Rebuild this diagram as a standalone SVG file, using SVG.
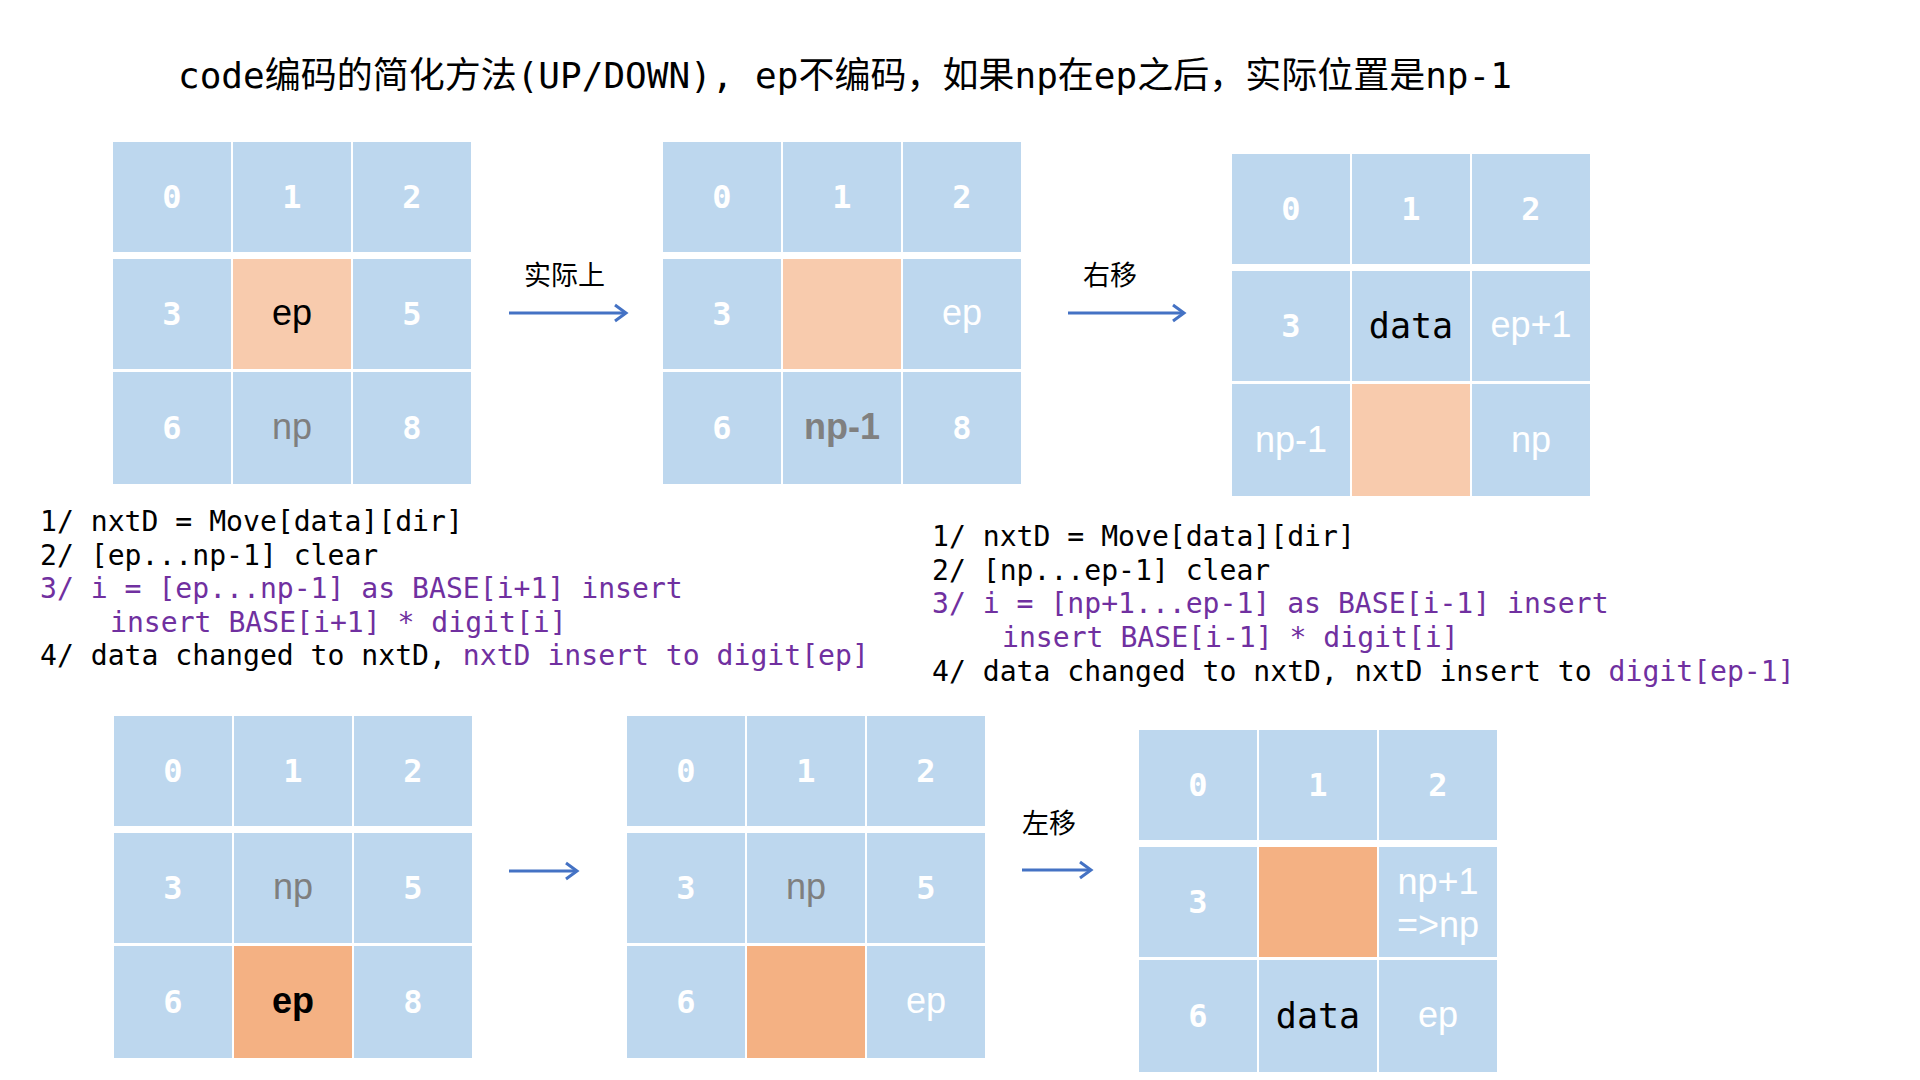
<svg xmlns="http://www.w3.org/2000/svg" width="1920" height="1080" viewBox="0 0 1920 1080">
<style>
.c{fill:#BDD7EE}
.o{fill:#F8CBAD}
.od{fill:#F4B183}
.d{font-family:"DejaVu Sans Mono","Liberation Mono",monospace;font-size:32px;font-weight:bold;fill:#FFFFFF;text-anchor:middle}
.s{font-family:"Liberation Sans",Arial,sans-serif;font-size:36px;text-anchor:middle}
.w{fill:#FFFFFF}
.k{fill:#000000}
.g{fill:#7F7F7F}
.m{font-family:"DejaVu Sans Mono","Liberation Mono",monospace;font-size:35px;text-anchor:middle;fill:#000000}
.code{font-family:"DejaVu Sans Mono","Liberation Mono",monospace;font-size:28.1px;fill:#000000}
.p{fill:#7030A0}
.lbl{font-family:"Liberation Serif","Noto Sans CJK SC",serif;font-size:27px;fill:#000000}
.arr{stroke:#4472C4;stroke-width:3;fill:none}
</style>
<defs>
<marker id="ah" markerUnits="userSpaceOnUse" markerWidth="16" markerHeight="20" refX="13" refY="10" orient="auto">
<path d="M2,2 L13,10 L2,18" fill="none" stroke="#4472C4" stroke-width="3"/>
</marker>
</defs>
<rect width="1920" height="1080" fill="#FFFFFF"/>

<text id="title" x="178" y="88" font-family="DejaVu Sans Mono,Noto Sans CJK SC,monospace" font-size="36" fill="#000000">code编码的简化方法(UP/DOWN), ep不编码，如果np在ep之后，实际位置是np-1</text>

<!-- Grid 1 -->
<g id="grid1">
<rect class="c" x="113" y="142" width="118" height="110"/><text class="d" x="172" y="208">0</text>
<rect class="c" x="233" y="142" width="118" height="110"/><text class="d" x="292" y="208">1</text>
<rect class="c" x="353" y="142" width="118" height="110"/><text class="d" x="412" y="208">2</text>
<rect class="c" x="113" y="259" width="118" height="110"/><text class="d" x="172" y="325">3</text>
<rect class="o" x="233" y="259" width="118" height="110"/><text class="s k" x="292" y="325">ep</text>
<rect class="c" x="353" y="259" width="118" height="110"/><text class="d" x="412" y="325">5</text>
<rect class="c" x="113" y="372" width="118" height="112"/><text class="d" x="172" y="439">6</text>
<rect class="c" x="233" y="372" width="118" height="112"/><text class="s g" x="292" y="439">np</text>
<rect class="c" x="353" y="372" width="118" height="112"/><text class="d" x="412" y="439">8</text>
</g>

<!-- Grid 2 -->
<g id="grid2">
<rect class="c" x="663" y="142" width="118" height="110"/><text class="d" x="722" y="208">0</text>
<rect class="c" x="783" y="142" width="118" height="110"/><text class="d" x="842" y="208">1</text>
<rect class="c" x="903" y="142" width="118" height="110"/><text class="d" x="962" y="208">2</text>
<rect class="c" x="663" y="259" width="118" height="110"/><text class="d" x="722" y="325">3</text>
<rect class="o" x="783" y="259" width="118" height="110"/>
<rect class="c" x="903" y="259" width="118" height="110"/><text class="s w" x="962" y="325">ep</text>
<rect class="c" x="663" y="372" width="118" height="112"/><text class="d" x="722" y="439">6</text>
<rect class="c" x="783" y="372" width="118" height="112"/><text class="s" x="842" y="439" font-weight="bold" fill="#808080">np-1</text>
<rect class="c" x="903" y="372" width="118" height="112"/><text class="d" x="962" y="439">8</text>
</g>

<!-- Grid 3 -->
<g id="grid3">
<rect class="c" x="1232" y="154" width="118" height="110"/><text class="d" x="1291" y="220">0</text>
<rect class="c" x="1352" y="154" width="118" height="110"/><text class="d" x="1411" y="220">1</text>
<rect class="c" x="1472" y="154" width="118" height="110"/><text class="d" x="1531" y="220">2</text>
<rect class="c" x="1232" y="271" width="118" height="110"/><text class="d" x="1291" y="337">3</text>
<rect class="c" x="1352" y="271" width="118" height="110"/><text class="m" x="1411" y="338">data</text>
<rect class="c" x="1472" y="271" width="118" height="110"/><text class="s w" x="1531" y="337" font-size="35">ep+1</text>
<rect class="c" x="1232" y="384" width="118" height="112"/><text class="s w" x="1291" y="452">np-1</text>
<rect class="o" x="1352" y="384" width="118" height="112"/>
<rect class="c" x="1472" y="384" width="118" height="112"/><text class="s w" x="1531" y="452">np</text>
</g>

<!-- Grid 4 -->
<g id="grid4">
<rect class="c" x="114" y="716" width="118" height="110"/><text class="d" x="173" y="782">0</text>
<rect class="c" x="234" y="716" width="118" height="110"/><text class="d" x="293" y="782">1</text>
<rect class="c" x="354" y="716" width="118" height="110"/><text class="d" x="413" y="782">2</text>
<rect class="c" x="114" y="833" width="118" height="110"/><text class="d" x="173" y="899">3</text>
<rect class="c" x="234" y="833" width="118" height="110"/><text class="s g" x="293" y="899">np</text>
<rect class="c" x="354" y="833" width="118" height="110"/><text class="d" x="413" y="899">5</text>
<rect class="c" x="114" y="946" width="118" height="112"/><text class="d" x="173" y="1013">6</text>
<rect class="od" x="234" y="946" width="118" height="112"/><text class="s k" x="293" y="1013" font-weight="bold">ep</text>
<rect class="c" x="354" y="946" width="118" height="112"/><text class="d" x="413" y="1013">8</text>
</g>

<!-- Grid 5 -->
<g id="grid5">
<rect class="c" x="627" y="716" width="118" height="110"/><text class="d" x="686" y="782">0</text>
<rect class="c" x="747" y="716" width="118" height="110"/><text class="d" x="806" y="782">1</text>
<rect class="c" x="867" y="716" width="118" height="110"/><text class="d" x="926" y="782">2</text>
<rect class="c" x="627" y="833" width="118" height="110"/><text class="d" x="686" y="899">3</text>
<rect class="c" x="747" y="833" width="118" height="110"/><text class="s g" x="806" y="899">np</text>
<rect class="c" x="867" y="833" width="118" height="110"/><text class="d" x="926" y="899">5</text>
<rect class="c" x="627" y="946" width="118" height="112"/><text class="d" x="686" y="1013">6</text>
<rect class="od" x="747" y="946" width="118" height="112"/>
<rect class="c" x="867" y="946" width="118" height="112"/><text class="s w" x="926" y="1013">ep</text>
</g>

<!-- Grid 6 -->
<g id="grid6">
<rect class="c" x="1139" y="730" width="118" height="110"/><text class="d" x="1198" y="796">0</text>
<rect class="c" x="1259" y="730" width="118" height="110"/><text class="d" x="1318" y="796">1</text>
<rect class="c" x="1379" y="730" width="118" height="110"/><text class="d" x="1438" y="796">2</text>
<rect class="c" x="1139" y="847" width="118" height="110"/><text class="d" x="1198" y="913">3</text>
<rect class="od" x="1259" y="847" width="118" height="110"/>
<rect class="c" x="1379" y="847" width="118" height="110"/><text class="s w" x="1438" y="894" font-size="35">np+1</text><text class="s w" x="1438" y="937" font-size="35">=&gt;np</text>
<rect class="c" x="1139" y="960" width="118" height="112"/><text class="d" x="1198" y="1027">6</text>
<rect class="c" x="1259" y="960" width="118" height="112"/><text class="m" x="1318" y="1028">data</text>
<rect class="c" x="1379" y="960" width="118" height="112"/><text class="s w" x="1438" y="1027">ep</text>
</g>

<!-- Connectors -->
<g id="connectors">
<line class="arr" x1="509" y1="313" x2="626" y2="313" marker-end="url(#ah)"/>
<text class="lbl" x="524" y="285">实际上</text>
<line class="arr" x1="1068" y1="313" x2="1184" y2="313" marker-end="url(#ah)"/>
<text class="lbl" x="1083" y="285">右移</text>
<line class="arr" x1="509" y1="871" x2="577" y2="871" marker-end="url(#ah)"/>
<line class="arr" x1="1022" y1="870" x2="1091" y2="870" marker-end="url(#ah)"/>
<text class="lbl" x="1022" y="833">左移</text>
</g>

<!-- Code block 1 -->
<g id="code1" class="code">
<text x="40" y="531">1/ nxtD = Move[data][dir]</text>
<text x="40" y="565">2/ [ep...np-1] clear</text>
<text x="40" y="598" class="p">3/ i = [ep...np-1] as BASE[i+1] insert</text>
<text x="110" y="632" class="p">insert BASE[i+1] * digit[i]</text>
<text x="40" y="665">4/ data changed to nxtD, <tspan class="p">nxtD insert to digit[ep]</tspan></text>
</g>

<!-- Code block 2 -->
<g id="code2" class="code">
<text x="932" y="546">1/ nxtD = Move[data][dir]</text>
<text x="932" y="580">2/ [np...ep-1] clear</text>
<text x="932" y="613" class="p">3/ i = [np+1...ep-1] as BASE[i-1] insert</text>
<text x="1002" y="647" class="p">insert BASE[i-1] * digit[i]</text>
<text x="932" y="681">4/ data changed to nxtD, nxtD insert to <tspan class="p">digit[ep-1]</tspan></text>
</g>
</svg>
